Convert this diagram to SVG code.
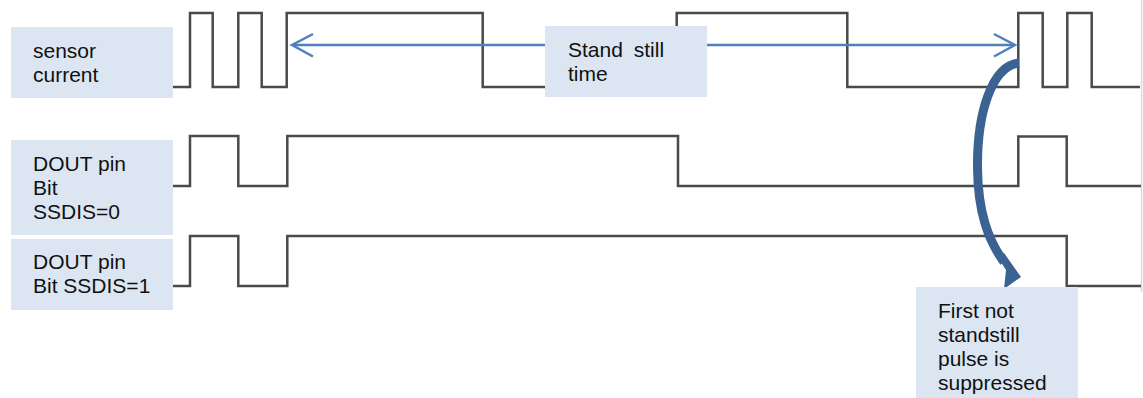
<svg xmlns="http://www.w3.org/2000/svg" width="1143" height="398" viewBox="0 0 1143 398">
<style>
.wave{fill:none;stroke:#4a4a4a;stroke-width:2.5;stroke-linejoin:miter}
.box{fill:#dce6f2}
.lbl{font-family:"Liberation Sans",Arial,sans-serif;font-size:21px;fill:#111}
.blue{fill:none;stroke:#4f81bd;stroke-width:2.5}
</style>
<rect width="1143" height="398" fill="#fff"/>
<line x1="1141.5" y1="0" x2="1141.5" y2="292" stroke="#d9d9d9" stroke-width="1.5"/>
<g id="connectors">
<path class="wave" d="M173,87 H190 V13 H212.7 V87 H238.3 V13 H261.7 V87 H286.7 V13 H482.7 V87 H676.7 V13 H847.3 V87 H1018.3 V13 H1042.7 V87 H1067.3 V13 H1091.7 V87 H1140"/>
<path class="wave" d="M173,186 H190 V136 H238.3 V186 H287.3 V136 H678 V186 H1018.3 V136.5 H1066.7 V186 H1141"/>
<path class="wave" d="M173,286 H190 V236 H238.3 V286 H287.3 V236 H1066.7 V286 H1141"/>
<line class="blue" x1="293" y1="45" x2="1014" y2="45"/>
<path class="blue" d="M313,34 L292,45 L313,56.5"/>
<path class="blue" d="M994,34 L1015,45 L994,56.5"/>
<path d="M1019,63 C991,66 977,115 977.5,168 C978,212 988,240 1004,262" fill="none" stroke="#3b6293" stroke-width="9"/>
<polygon points="997,256 1004,253 1021,277 1004,289 1006,270" fill="#3b6293"/>
</g>
<g id="sensor-current">
<rect class="box" x="11" y="27" width="162" height="71"/>
<text class="lbl" x="33" y="58">sensor</text>
<text class="lbl" x="33" y="82">current</text>
</g>
<g id="stand-still-time">
<rect class="box" x="545" y="26" width="162" height="71"/>
<text class="lbl" x="568" y="57" word-spacing="5">Stand still</text>
<text class="lbl" x="568" y="81">time</text>
</g>
<g id="dout-ssdis0">
<rect class="box" x="11" y="140" width="162" height="95"/>
<text class="lbl" x="33" y="171">DOUT pin</text>
<text class="lbl" x="33" y="195">Bit</text>
<text class="lbl" x="33" y="219">SSDIS=0</text>
</g>
<g id="dout-ssdis1">
<rect class="box" x="11" y="239" width="162" height="71"/>
<text class="lbl" x="33" y="269">DOUT pin</text>
<text class="lbl" x="33" y="293">Bit SSDIS=1</text>
</g>
<g id="first-not-standstill">
<rect class="box" x="916" y="287" width="162" height="111"/>
<text class="lbl" x="938" y="318">First not</text>
<text class="lbl" x="938" y="342">standstill</text>
<text class="lbl" x="938" y="366">pulse is</text>
<text class="lbl" x="938" y="390">suppressed</text>
</g>
</svg>
